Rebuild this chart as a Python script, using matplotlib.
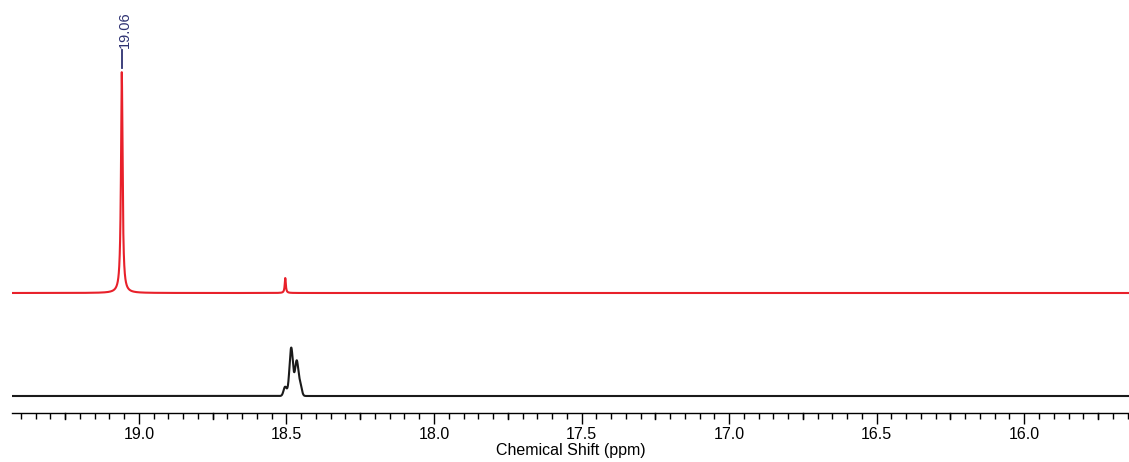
import numpy as np
import matplotlib
matplotlib.use("Agg")
import matplotlib.pyplot as plt
from matplotlib.ticker import MultipleLocator, FixedLocator

plt.rcParams['font.family'] = ['Liberation Sans', 'DejaVu Sans']

# ---- data (peak tables, arbitrary intensity units) ----
x_range = [19.43, 15.645]           # ppm, reversed axis
red_offset = 120.0
red_peak_ppm = [19.058, 18.504]
red_peak_height = [221.0, 15.0]
red_peak_hwhm = [0.0032, 0.0022]

black_offset = 17.0
black_peak_ppm = [18.505, 18.484, 18.465, 18.453, 18.479]
black_peak_height = [8.0, 40.0, 30.0, 10.0, 9.0]
black_peak_sigma = [0.0050, 0.0055, 0.0055, 0.0050, 0.0130]

peak_label = "19.06"
peak_label_ppm = 19.058
major_ticks = [19.0, 18.5, 18.0, 17.5, 17.0, 16.5, 16.0]
xlabel = "Chemical Shift (ppm)"


def lorentz(grid, centers, heights, hwhm):
    y = np.zeros_like(grid)
    for c, h, w in zip(centers, heights, hwhm):
        y += h / (1.0 + ((grid - c) / w) ** 2)
    return y


def gauss(grid, centers, heights, sigma):
    y = np.zeros_like(grid)
    for c, h, s in zip(centers, heights, sigma):
        y += h * np.exp(-0.5 * ((grid - c) / s) ** 2)
    return y


grid = np.linspace(x_range[0], x_range[1], 12000)
red = red_offset + lorentz(grid, red_peak_ppm, red_peak_height, red_peak_hwhm)
black = black_offset + gauss(grid, black_peak_ppm, black_peak_height, black_peak_sigma)

fig = plt.figure(figsize=(11.29, 4.62), dpi=100)
ax = fig.add_axes([12 / 1129, 1 - 413 / 462, 1 - 12 / 1129, 413 / 462])

ax.plot(grid, red, color="#e8202a", lw=1.5)
ax.plot(grid, black, color="#1a1a1a", lw=1.5)

ax.set_xlim(x_range[0], x_range[1])
ax.set_ylim(0, 413)

for s in ["top", "left", "right"]:
    ax.spines[s].set_visible(False)
ax.spines["bottom"].set_linewidth(1.0)
ax.set_yticks([])

ax.xaxis.set_major_locator(FixedLocator(major_ticks))
ax.xaxis.set_minor_locator(MultipleLocator(0.05))
ax.tick_params(axis="x", which="major", length=8, width=1, labelsize=11.5, pad=2)
ax.tick_params(axis="x", which="minor", length=4, width=1)
ax.set_xticklabels([f"{t:.1f}" for t in major_ticks])
# medium ticks at the quarter positions
quarters = np.arange(19.25, 15.6, -0.5)
for q in quarters:
    ax.plot([q, q], [0, -6], color="black", lw=1, clip_on=False)
ax.set_xlabel(xlabel, fontsize=11.5, labelpad=1)

# peak label
ax.plot([peak_label_ppm, peak_label_ppm], [413 - 68, 413 - 50], color="#2e3272", lw=1.3)
ax.text(peak_label_ppm - 0.012, 413 - 48, peak_label, rotation=90, ha="center", va="bottom",
        color="#2e3272", fontsize=10.5)

fig.savefig("out.png", dpi=100)
